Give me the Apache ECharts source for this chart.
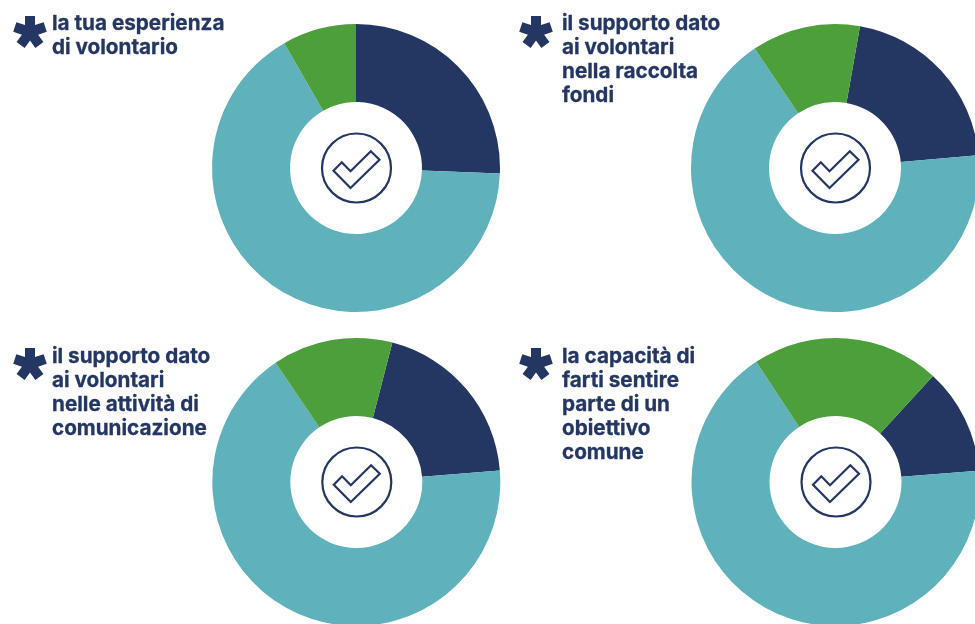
<!DOCTYPE html>
<html>
<head>
<meta charset="utf-8">
<style>
  html, body { margin: 0; padding: 0; background: #fff; }
  #chart { width: 975px; height: 624px; }
</style>
</head>
<body>
<div id="chart"></div>
<script src="https://cdn.jsdelivr.net/npm/echarts@6/dist/echarts.min.js"></script>
<script>
// share of each answer, in percent
var categories = ['navy', 'teal', 'green'];
var volontario = [25.6, 66.1, 8.3];
var raccolta = [20.8, 67, 12.2];
var comunicazione = [19.7, 66.8, 13.5];
var obiettivo = [11.9, 66.9, 21.1];

var questions = [
  'la tua esperienza\ndi volontario',
  'il supporto dato\nai volontari\nnella raccolta\nfondi',
  'il supporto dato\nai volontari\nnelle attività di\ncomunicazione',
  'la capacità di\nfarti sentire\nparte di un\nobiettivo\ncomune'
];

var NAVY = '#243763';
var colors = [NAVY, '#5fb1bb', '#4c9f3a'];
var panels = [
  { values: volontario, start: 90, cx: 356, cy: 168, textX: 52, textY: 11, starY: 32, starX: 30 },
  { values: raccolta, start: 80, cx: 835, cy: 168, textX: 562, textY: 11, starY: 32, starX: 536 },
  { values: comunicazione, start: 75.5, cx: 356.3, cy: 482, textX: 52, textY: 344, starY: 364, starX: 30 },
  { values: obiettivo, start: 47.4, cx: 835.5, cy: 482, textX: 562, textY: 344, starY: 364, starX: 536 }
];

// five armed asterisk next to each question
function starPoints() {
  var pts = [], arm = 16, half = 5;
  for (var i = 0; i < 5; i++) {
    var a = (i * 72 - 90) * Math.PI / 180;
    var ux = Math.cos(a), uy = Math.sin(a), nx = -uy, ny = ux;
    var inner = half / Math.tan(36 * Math.PI / 180);
    pts.push([ux * inner - nx * half, uy * inner - ny * half]);
    pts.push([ux * arm - nx * half, uy * arm - ny * half]);
    pts.push([ux * arm + nx * half, uy * arm + ny * half]);
  }
  return pts;
}

var checkShape = [[-6, 20], [-23, 2.7], [-14.7, -5.7], [-6, 3.3], [14.3, -16.7], [23, -8.3]];
var graphics = [];
panels.forEach(function (p) {
  graphics.push({
    type: 'polygon', x: p.starX, y: p.starY, silent: true,
    shape: { points: starPoints() },
    style: { fill: NAVY }
  });
  graphics.push({
    type: 'circle', x: p.cx + 0.5, y: p.cy, silent: true,
    shape: { r: 34.5 },
    style: { fill: '#fff', stroke: NAVY, lineWidth: 2.2 }
  });
  graphics.push({
    type: 'polygon', x: p.cx + 0.5, y: p.cy, silent: true,
    shape: { points: checkShape },
    style: { fill: '#fff', stroke: NAVY, lineWidth: 2.2 }
  });
});

var chart = echarts.init(document.getElementById('chart'), null, { renderer: 'canvas' });
chart.setOption({
  animation: false,
  title: panels.map(function (p, i) {
    return {
      text: questions[i], left: p.textX, top: p.textY + 1, padding: 0,
      textStyle: {
        color: NAVY, fontFamily: 'Inter', fontWeight: 'bold',
        fontSize: 20.7, lineHeight: 24,
        textBorderColor: NAVY, textBorderWidth: 0.3
      }
    };
  }),
  graphic: graphics,
  series: panels.map(function (p) {
    return {
      type: 'pie',
      silent: true,
      clockwise: true,
      startAngle: p.start,
      center: [p.cx, p.cy],
      radius: [66, 144],
      label: { show: false },
      labelLine: { show: false },
      data: p.values.map(function (v, i) {
        return { name: categories[i], value: v, itemStyle: { color: colors[i] } };
      })
    };
  })
});
</script>
</body>
</html>
